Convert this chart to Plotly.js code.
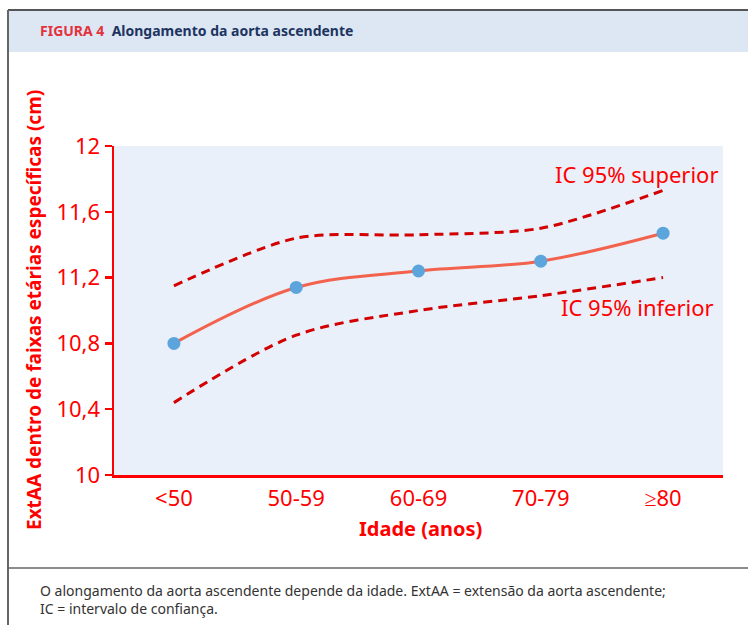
<!DOCTYPE html>
<html>
<head>
<meta charset="utf-8">
<script src="https://cdn.plot.ly/plotly-3.0.1.min.js"></script>
<style>
html,body{margin:0;padding:0;background:#fff;}
#chart{width:748px;height:625px;}
</style>
</head>
<body>
<div id="chart"></div>
<script>
// ---- data ----
const ageGroups = ["<50", "50-59", "60-69", "70-79", "≥80"];
const meanExtAA = [10.80, 11.14, 11.24, 11.30, 11.47];
const upperCI = [11.15, 11.44, 11.46, 11.50, 11.73];
const lowerCI = [10.44, 10.85, 11.00, 11.09, 11.20];
const yTickVals = [10, 10.4, 10.8, 11.2, 11.6, 12];
const yTickText = ["10", "10,4", "10,8", "11,2", "11,6", "12"];

const W = 748, H = 625;
const X = p => p / W;
const Y = p => 1 - p / H;
const RED = "#ff0000";
const FONT = "Noto Sans";

const traces = [
  {x: ageGroups, y: upperCI, type: "scatter", mode: "lines",
   line: {color: "#d20000", width: 3, dash: "9px,6px", shape: "spline", smoothing: 0.8},
   hoverinfo: "skip", showlegend: false},
  {x: ageGroups, y: lowerCI, type: "scatter", mode: "lines",
   line: {color: "#d20000", width: 3, dash: "9px,6px", shape: "spline", smoothing: 0.9},
   hoverinfo: "skip", showlegend: false},
  {x: ageGroups, y: meanExtAA, type: "scatter", mode: "lines+markers",
   line: {color: "#f2624d", width: 3, shape: "spline", smoothing: 1},
   marker: {color: "#5ba5dc", size: 13},
   showlegend: false}
];

const layout = {
  width: W, height: H,
  margin: {l: 0, r: 0, t: 0, b: 0},
  paper_bgcolor: "#ffffff",
  plot_bgcolor: "#e9f0f9",
  font: {family: FONT, color: RED},
  showlegend: false,
  xaxis: {
    domain: [X(114), X(723)],
    type: "category",
    range: [-0.49, 4.49],
    showgrid: false, zeroline: false,
    showline: true, linecolor: RED, linewidth: 2.5,
    ticks: "", ticklabelstandoff: 2,
    tickfont: {family: FONT, size: 22, color: RED}
  },
  yaxis: {
    domain: [Y(475), Y(146)],
    range: [10, 12],
    tickvals: yTickVals, ticktext: yTickText,
    showgrid: false, zeroline: false,
    showline: true, linecolor: RED, linewidth: 2.5,
    ticks: "outside", ticklen: 7, tickwidth: 2.5, tickcolor: RED,
    tickfont: {family: FONT, size: 22, color: RED}
  },
  shapes: [
    {type: "rect", xref: "paper", yref: "paper", x0: X(9), x1: X(748), y0: Y(52), y1: Y(11),
     fillcolor: "#dce7f3", line: {width: 0}, layer: "below"},
    {type: "line", xref: "paper", yref: "paper", x0: X(8), x1: X(748), y0: Y(10), y1: Y(10),
     line: {color: "#555555", width: 2}},
    {type: "line", xref: "paper", yref: "paper", x0: X(8), x1: X(8), y0: Y(10), y1: Y(625),
     line: {color: "#666666", width: 2}},
    {type: "line", xref: "paper", yref: "paper", x0: X(8), x1: X(748), y0: Y(568), y1: Y(568),
     line: {color: "#666666", width: 1.5}}
  ],
  annotations: [
    {xref: "paper", yref: "paper", x: X(38), y: Y(31), xanchor: "left", yanchor: "middle",
     showarrow: false,
     text: "<b><span style='color:#e3323c'>FIGURA 4</span>  Alongamento da aorta ascendente</b>",
     font: {family: FONT, size: 14, color: "#1d3461"}},
    {xref: "paper", yref: "paper", x: X(720), y: Y(174), xanchor: "right", yanchor: "middle",
     showarrow: false, text: "IC 95% superior", font: {family: FONT, size: 22, color: RED}},
    {xref: "paper", yref: "paper", x: X(716), y: Y(307), xanchor: "right", yanchor: "middle",
     showarrow: false, text: "IC 95% inferior", font: {family: FONT, size: 22, color: RED}},
    {xref: "paper", yref: "paper", x: X(420), y: Y(528), xanchor: "center", yanchor: "middle",
     showarrow: false, text: "<b>Idade (anos)</b>", font: {family: FONT, size: 20, color: RED}},
    {xref: "paper", yref: "paper", x: X(34), y: Y(310), xanchor: "center", yanchor: "middle",
     showarrow: false, textangle: -90,
     text: "<b>ExtAA dentro de faixas etárias específicas (cm)</b>",
     font: {family: FONT, size: 19, color: RED}},
    {xref: "paper", yref: "paper", x: X(38), y: Y(579), xanchor: "left", yanchor: "top",
     showarrow: false, align: "left",
     text: "O alongamento da aorta ascendente depende da idade. ExtAA = extensão da aorta ascendente;<br>IC = intervalo de confiança.",
     font: {family: FONT, size: 14, color: "#333333"}}
  ]
};

Plotly.newPlot("chart", traces, layout, {displayModeBar: false, staticPlot: true});
</script>
</body>
</html>
